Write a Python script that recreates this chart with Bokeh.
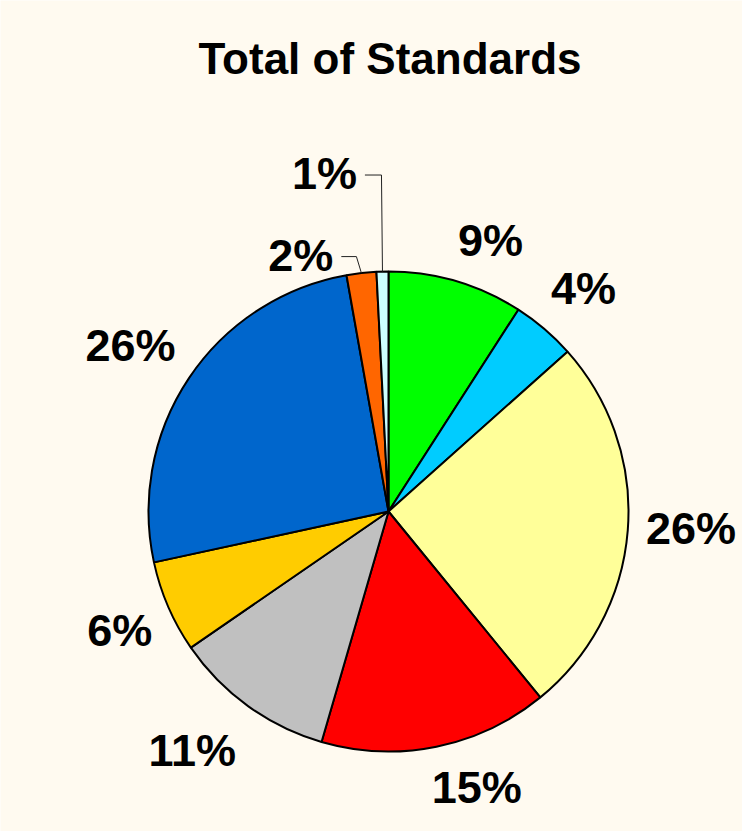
import math
from bokeh.plotting import figure
from bokeh.models import Range1d, ColumnDataSource
from bokeh.core.properties import value
from bokeh.embed import file_html
from bokeh.resources import INLINE

# ---------------- data ----------------
chart_title = "Total of Standards"
categories = ["Green", "Cyan", "Light yellow", "Red", "Grey", "Gold", "Blue", "Orange", "White"]
shares = [9.1, 4.3, 25.7, 15.4, 10.9, 6.2, 25.6, 2.0, 0.8]
colors = ["#00FF00", "#00CCFF", "#FFFF99", "#FF0000", "#C0C0C0",
          "#FFCC00", "#0066CC", "#FF6600", "#CCFFFF"]

# ---------------- layout ----------------
W, H = 742, 831
BG = "#FFFAF0"
CX, CY, R = 388, 320, 240
FONT = "Liberation Sans"
LABEL_PX = 45
TITLE_PX = 44
label_nudge_deg = [4.2, 0.7, -1.2, -6.2, 3.6, -0.5, -1.0, -12.4, -9.3]
label_dist = [290, 296, 303, 290, 309, 294, 307, 271, 344]
has_leader = [False] * 7 + [True, True]
leader_elbow_dx = [0] * 7 + [-5, -1]

p = figure(width=W, height=H, x_range=Range1d(0, W), y_range=Range1d(0, H),
           output_backend="svg", toolbar_location=None, min_border=0)
p.xaxis.visible = False
p.yaxis.visible = False
p.grid.visible = False
p.outline_line_color = None
p.background_fill_color = BG
p.border_fill_color = BG

total = sum(shares)
starts, ends, lx, ly, ltxt = [], [], [], [], []
leader_xs, leader_ys = [], []
cum = 0.0
char_w = {"%": 0.889}
for i, v in enumerate(shares):
    f0 = cum / total
    f1 = (cum + v) / total
    cum += v
    starts.append(math.pi / 2 - 2 * math.pi * f1)
    ends.append(math.pi / 2 - 2 * math.pi * f0)
    mid = 360.0 * (f0 + f1) / 2
    a = math.radians(mid + label_nudge_deg[i])
    x = CX + label_dist[i] * math.sin(a)
    y = CY + label_dist[i] * math.cos(a)
    txt = f"{round(v / total * 100)}%"
    lx.append(x)
    ly.append(y)
    ltxt.append(txt)
    if has_leader[i]:
        half_w = 0.5 * LABEL_PX * sum(char_w.get(c, 0.556) for c in txt)
        m = math.radians(mid)
        ex = CX + R * math.sin(m)
        ey = CY + R * math.cos(m)
        yy = y - 1.5
        leader_xs.append([x + half_w + 8, ex + leader_elbow_dx[i], ex])
        leader_ys.append([yy, yy, ey])

src = ColumnDataSource(dict(cat=categories, share=shares, color=colors,
                            start=starts, end=ends))
p.wedge(x=CX, y=CY, radius=R, start_angle="start", end_angle="end",
        fill_color="color", line_color="black", line_width=2, source=src)

p.multi_line(xs=leader_xs, ys=leader_ys, line_color="#222222", line_width=1)

p.text(x=lx, y=ly, text=ltxt, text_align="center", text_baseline="middle",
       text_font=value(FONT), text_font_style="bold",
       text_font_size=f"{LABEL_PX}px", text_color="black")

p.text(x=[389.5], y=[773.5], text=[chart_title], text_align="center",
       text_baseline="middle", text_font=value(FONT), text_font_style="bold",
       text_font_size=f"{TITLE_PX}px", text_color="black")

open("out.html", "w").write(file_html(p, INLINE))
